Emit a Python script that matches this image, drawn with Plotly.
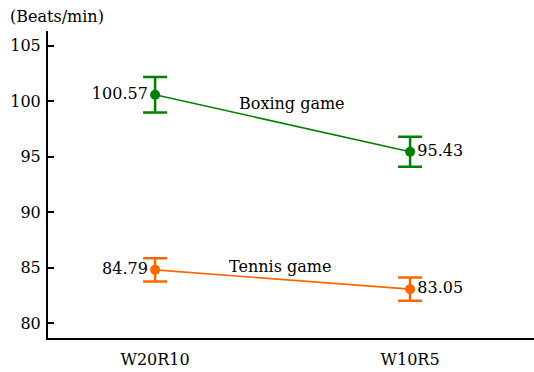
import plotly.graph_objects as go

categories = ["W20R10", "W10R5"]
boxing = [100.57, 95.43]
boxing_err = [1.6, 1.35]
tennis = [84.79, 83.05]
tennis_err = [1.05, 1.05]
y_ticks = [80, 85, 90, 95, 100, 105]

GREEN = "#008000"
ORANGE = "#ff6600"
FONT = "DejaVu Serif"
FS = 16
xpos = list(range(len(categories)))

fig = go.Figure()
for vals, errs, color, name in [(boxing, boxing_err, GREEN, "Boxing game"),
                                (tennis, tennis_err, ORANGE, "Tennis game")]:
    fig.add_trace(go.Scatter(
        x=xpos, y=vals, mode="lines+markers+text", name=name,
        text=[f"{v:.2f}" for v in vals],
        textposition=["middle left", "middle right"],
        textfont=dict(family=FONT, size=FS, color="black"),
        line=dict(color=color, width=1.6),
        marker=dict(color=color, size=10),
        error_y=dict(type="data", array=errs, visible=True, color=color,
                     thickness=2.5, width=12),
        cliponaxis=False,
    ))

fig.add_annotation(x=0.537, y=99.82, text="Boxing game", showarrow=False,
                   font=dict(family=FONT, size=FS, color="black"))
fig.add_annotation(x=0.49, y=85.09, text="Tennis game", showarrow=False,
                   font=dict(family=FONT, size=FS, color="black"))
fig.add_annotation(xref="paper", yref="paper", x=0, y=1, xshift=9, yshift=3,
                   xanchor="center", yanchor="bottom", text="(Beats/min)",
                   showarrow=False, font=dict(family=FONT, size=FS, color="black"))

fig.update_layout(
    width=534, height=372,
    margin=dict(l=48, r=0, t=31, b=34),
    plot_bgcolor="white", paper_bgcolor="white",
    showlegend=False,
    font=dict(family=FONT, size=FS, color="black"),
    xaxis=dict(range=[-0.42, 1.486], tickvals=xpos, ticktext=categories,
               showgrid=False, zeroline=False, showline=True, linecolor="black",
               linewidth=2, ticks="", ticklabelstandoff=6),
    yaxis=dict(range=[78.65, 106.31], tickvals=y_ticks, showgrid=False,
               zeroline=False, showline=True, linecolor="black", linewidth=2,
               ticks="inside", ticklen=6, tickwidth=1.5, tickcolor="black",
               ticklabelstandoff=2),
)
fig.write_html("out.html")
